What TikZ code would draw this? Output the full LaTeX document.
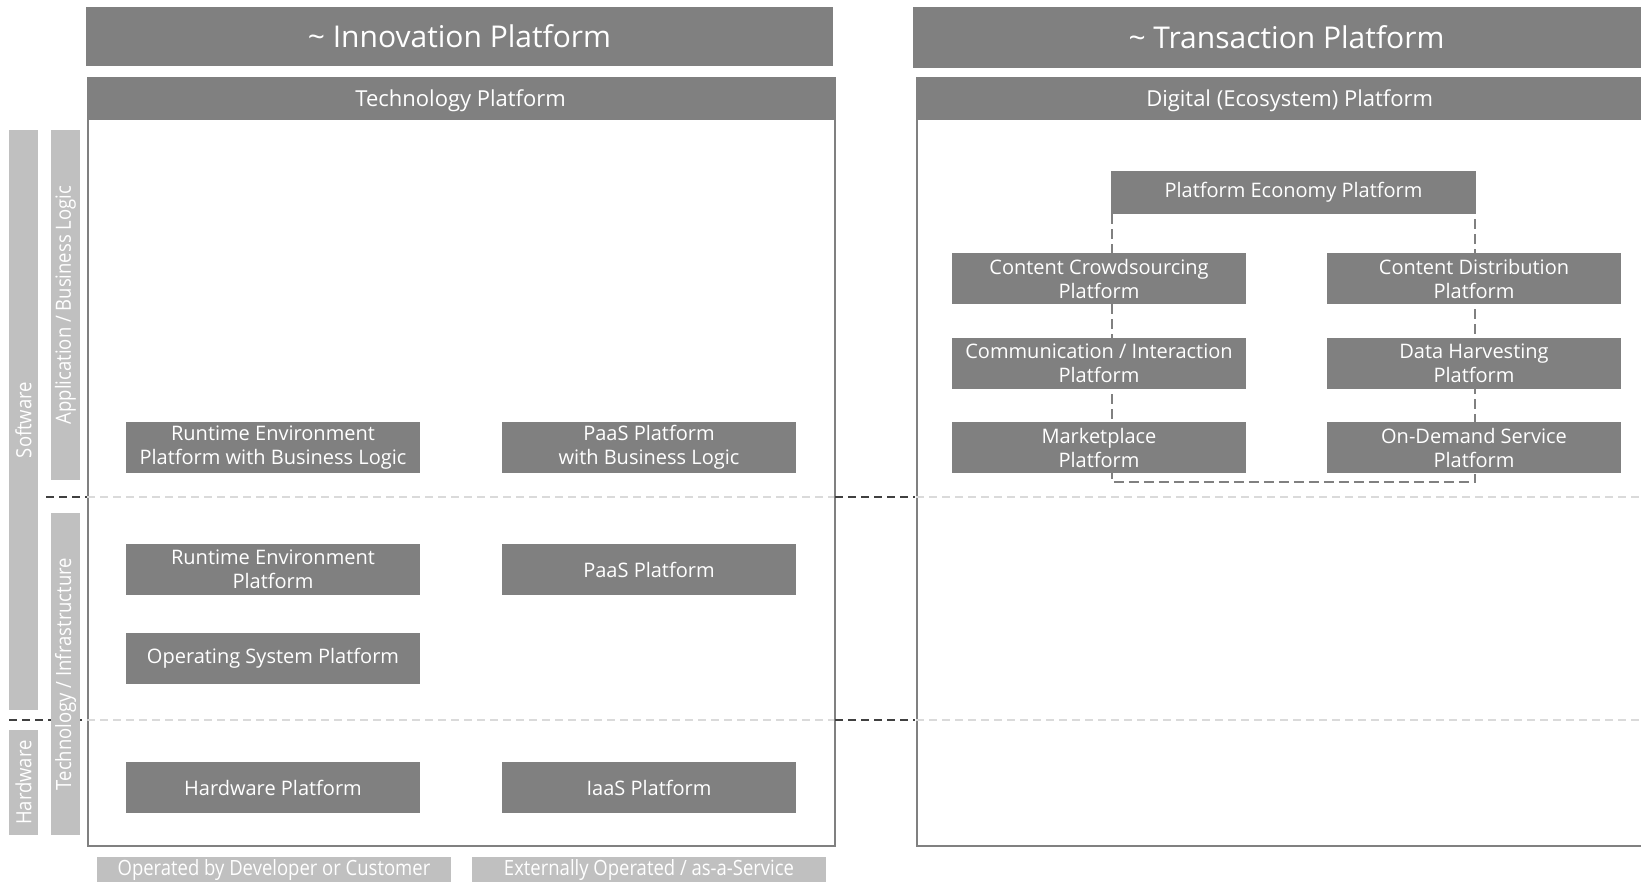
\documentclass[tikz,border=0pt]{standalone}
\usepackage{fontspec}
\setmainfont{Open Sans}
\newfontfamily\condfont[FakeStretch=0.88]{Open Sans}
\usetikzlibrary{backgrounds}
\definecolor{dg}{HTML}{808080}
\definecolor{lg}{HTML}{C0C0C0}
\definecolor{vlg}{HTML}{DADADA}
\tikzset{
  hdr/.style={fill=dg, text=white, inner sep=0pt, font=\fontsize{30}{33}\selectfont},
  subhdr/.style={fill=dg, text=white, inner sep=0pt, minimum width=747pt, minimum height=43pt, anchor=north west, text height=21pt, text depth=5pt, font=\fontsize{22}{25}\selectfont},
  bigbox/.style={draw=dg, line width=1.6pt, inner sep=0pt, minimum width=747pt, minimum height=768pt, anchor=north west},
  pbox/.style={fill=dg, text=white, inner sep=0pt, minimum width=294pt, minimum height=51pt, align=center, font=\fontsize{20}{24}\selectfont},
  sidebar/.style={fill=lg, text=white, inner sep=0pt, minimum height=29pt, rotate=90, font=\condfont\fontsize{21}{24}\selectfont},
  footbox/.style={fill=lg, text=white, inner sep=0pt, minimum width=354pt, minimum height=26pt, font=\condfont\fontsize{21}{22}\selectfont},
  darkdash/.style={draw=black!75, line width=1.4pt, dash pattern=on 8pt off 5pt},
  lightdash/.style={draw=vlg, line width=1.4pt, dash pattern=on 8pt off 5pt},
  bracket/.style={draw=dg, line width=1.6pt, dash pattern=on 10pt off 5pt},
}
\begin{document}
\begin{tikzpicture}[x=1pt,y=-1pt]
\useasboundingbox (0,0) rectangle (1641,882);
% headers
\node[hdr, minimum width=747pt, minimum height=59pt] (inno) at (459.5,36.5) {\textasciitilde\ Innovation Platform};
\node[hdr, minimum width=747pt, minimum height=61pt] (trans) at (1286.5,37.5) {\textasciitilde\ Transaction Platform};
% big boxes
\node[bigbox] (tech) at (87,77) {};
\node[subhdr] (techh) at (87,77) {Technology Platform};
\node[bigbox] (digi) at (916,77) {};
\node[subhdr] (digih) at (916,77) {Digital (Ecosystem) Platform};
% dashed separators
\draw[lightdash] (87,497) -- (834,497);
\draw[lightdash] (916,497) -- (1641,497);
\draw[darkdash] (46,497) -- (87,497);
\draw[darkdash] (835,497) -- (915,497);
\draw[lightdash] (87,720) -- (834,720);
\draw[lightdash] (916,720) -- (1641,720);
\draw[darkdash] (9,720) -- (87,720);
\draw[darkdash] (835,720) -- (915,720);
% side bars
\node[sidebar, minimum width=580pt] (sw) at (23.5,420) {Software};
\node[sidebar, minimum width=105pt] (hw) at (23.5,782.5) {Hardware};
\node[sidebar, minimum width=350pt] (app) at (65.5,305) {Application / Business Logic};
\node[sidebar, minimum width=322pt] (infra) at (65.5,674) {Technology / Infrastructure};
% technology platform boxes
\node[pbox] (rebl) at (273,447.5) {Runtime Environment\\Platform with Business Logic};
\node[pbox] (paasbl) at (649,447.5) {PaaS Platform\\with Business Logic};
\node[pbox] (re) at (273,569.5) {Runtime Environment\\Platform};
\node[pbox] (paas) at (649,569.5) {PaaS Platform};
\node[pbox] (os) at (273,658.5) {Operating System Platform};
\node[pbox] (hwp) at (273,787.5) {Hardware Platform};
\node[pbox] (iaas) at (649,787.5) {IaaS Platform};
% footer
\node[footbox] (dev) at (274,870) {Operated by Developer or Customer};
\node[footbox] (ext) at (649,870) {Externally Operated / as-a-Service};
% digital platform boxes
\node[pbox, minimum width=365pt, minimum height=43pt] (pe) at (1293.5,192.5) {Platform Economy Platform};
\node[pbox] (cc) at (1099,279) {Content Crowdsourcing\\Platform};
\node[pbox] (cd) at (1474,279) {Content Distribution\\Platform};
\node[pbox] (ci) at (1099,363.5) {Communication / Interaction\\Platform};
\node[pbox] (dh) at (1474,363.5) {Data Harvesting\\Platform};
\node[pbox] (mp) at (1099,447.5) {Marketplace\\Platform};
\node[pbox] (od) at (1474,447.5) {On-Demand Service\\Platform};
\begin{scope}[on background layer]
\coordinate (bl) at ([xshift=1pt]pe.south west);
\coordinate (br) at ([xshift=-1pt]pe.south east);
\draw[bracket] (bl) -- ++(0,268) -| (br);
\end{scope}
\end{tikzpicture}
\end{document}
